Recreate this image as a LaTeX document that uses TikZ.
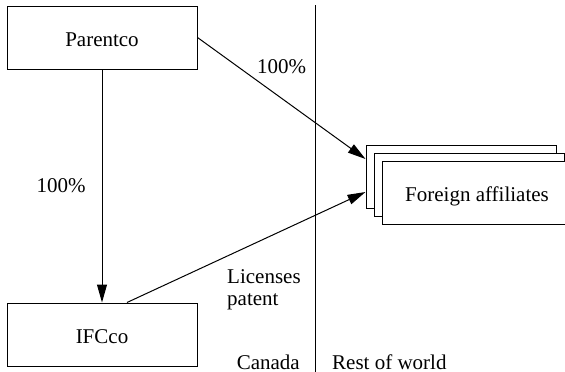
\documentclass[tikz,border=0pt]{standalone}
\usepackage{fontspec}
\setmainfont{Liberation Serif}
\usetikzlibrary{arrows.meta}

\tikzset{
	firm/.style = {draw, fill=white, line width=1pt, minimum width=190pt, minimum height=63pt, inner sep=0pt, text height=17pt, text depth=0pt},
	own/.style = {line width=1pt, -{Triangle[length=18pt,width=10pt]}},
	lbl/.style = {inner sep=0pt}
}

\begin{document}
\begin{tikzpicture}[x=1pt, y=-1pt, font=\fontsize{21}{22}\selectfont]

	\useasboundingbox (0,0) rectangle (565,372);

	% firms
	\node[firm] (parent) at (102,37.5) {Parentco};
	\node[firm] (ifc) at (102,334.5) {IFCco};
	\node[firm] (aff1) at (461,176.5) {};
	\node[firm] (aff2) at (469,184.5) {};
	\node[firm] (aff3) at (477,192.5) {Foreign affiliates};

	% border
	\coordinate (divtop) at (315,5);
	\coordinate (divbot) at (315,372);
	\draw [line width=1pt] (divtop) -- (divbot);

	\draw [own] (parent) -- (ifc);
	\draw [own] (parent.east) -- ([yshift=17.5pt]aff1.west);
	\draw [own] ([xshift=25pt]ifc.north) -- ([yshift=-15.5pt]aff1.west);

	\node[lbl, anchor=base] (pctright) at (281.5,73) {100\%};
	\node[lbl, anchor=base] (pctdown) at (61,192) {100\%};
	\node[lbl, anchor=base west, align=left] (licence) at (227,305) {Licenses\\patent};
	\node[lbl, anchor=base east] (canada) at (300,369) {Canada};
	\node[lbl, anchor=base west] (rest) at (332,369) {Rest of world};

\end{tikzpicture}
\end{document}
